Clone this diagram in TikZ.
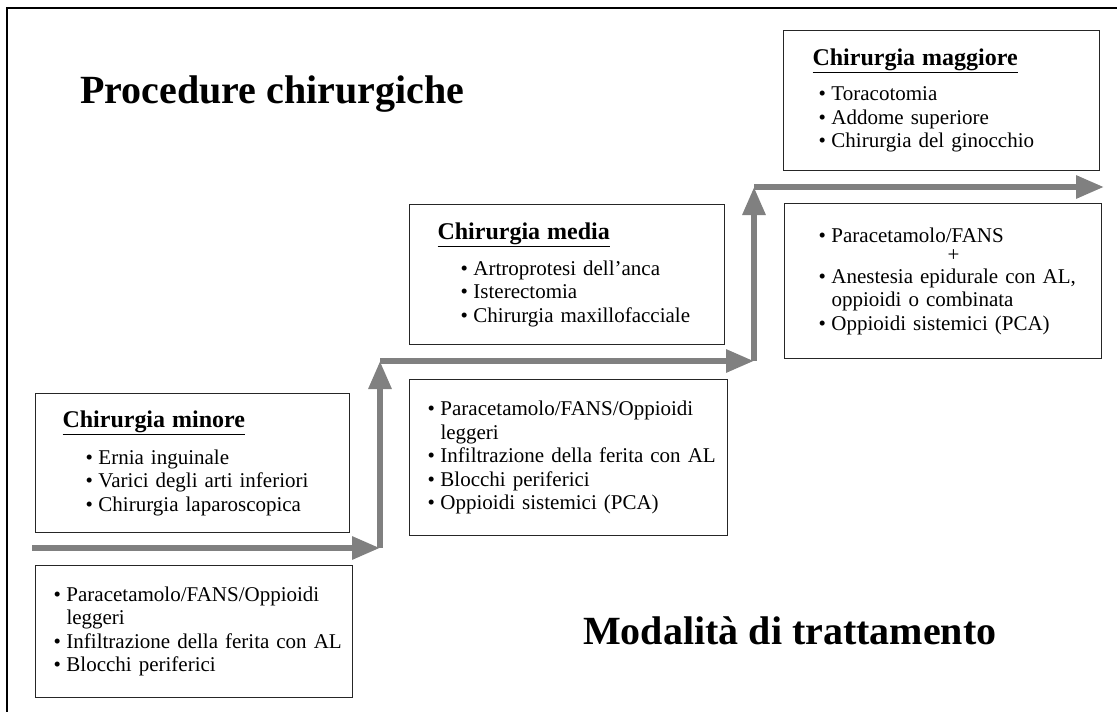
\documentclass[tikz,border=0pt]{standalone}
\usepackage{fontspec}
\setmainfont{Liberation Serif}
\usepackage{tikz}
\usetikzlibrary{positioning}
\usetikzlibrary{arrows.meta}

\newcommand{\pto}{\makebox[13pt][l]{\textbullet}}
\newcommand{\titolo}[1]{\underline{\fontsize{24}{24}\selectfont\bfseries #1}}

\begin{document}
\begin{tikzpicture}[
    x=1pt, y=-1pt,
    scatola/.style={draw=black!85, line width=1pt, anchor=north west, align=left,
      inner xsep=0pt, inner ysep=0pt, font=\fontsize{21}{23.5}\selectfont},
    titolone/.style={anchor=base west, inner sep=0pt, font=\fontsize{40}{40}\selectfont\bfseries},
    gradino/.style={draw=gray, line width=6pt, -{Triangle[length=28pt,width=22pt]}}
    ]
    \useasboundingbox (0,0) rectangle (1117,712);
    \draw[line width=1.5pt] (7,712) -- (7,8) -- (1117,8);

    \node[titolone] (proc) at (80,103) {Procedure chirurgiche};
    \node[titolone] (moda) at (583,644) {Modalità di trattamento};

    % chirurgia minore
    \node[scatola, text width=314pt, minimum height=139pt] (mintop) at (35,393) {%
      \hspace*{27pt}\titolo{Chirurgia minore}\\[13.5pt]
      \hspace*{50pt}\pto Ernia inguinale\\
      \hspace*{50pt}\pto Varici degli arti inferiori\\
      \hspace*{50pt}\pto Chirurgia laparoscopica};
    \node[scatola, text width=317pt, minimum height=132pt] (minbot) at (35,565) {%
      \hspace*{18pt}\pto Paracetamolo/FANS/Oppioidi\\
      \hspace*{31pt}leggeri\\
      \hspace*{18pt}\pto Infiltrazione della ferita con AL\\
      \hspace*{18pt}\pto Blocchi periferici};

    % chirurgia media
    \node[scatola, text width=315pt, minimum height=140pt] (medtop) at (409,204) {%
      \hspace*{28pt}\titolo{Chirurgia media}\\[12.5pt]
      \hspace*{51pt}\pto Artroprotesi dell’anca\\
      \hspace*{51pt}\pto Isterectomia\\
      \hspace*{51pt}\pto Chirurgia maxillofacciale};
    \node[scatola, text width=318pt, minimum height=156pt] (medbot) at (409,379) {%
      \hspace*{18pt}\pto Paracetamolo/FANS/Oppioidi\\
      \hspace*{31pt}leggeri\\
      \hspace*{18pt}\pto Infiltrazione della ferita con AL\\
      \hspace*{18pt}\pto Blocchi periferici\\
      \hspace*{18pt}\pto Oppioidi sistemici (PCA)};

    % chirurgia maggiore
    \node[scatola, text width=316pt, minimum height=140pt] (magtop) at (783,30) {%
      \hspace*{29pt}\titolo{Chirurgia maggiore}\\[11.5pt]
      \hspace*{35pt}\pto Toracotomia\\
      \hspace*{35pt}\pto Addome superiore\\
      \hspace*{35pt}\pto Chirurgia del ginocchio};
    \node[scatola, text width=317pt, minimum height=155pt] (magbot) at (784,203) {%
      \hspace*{34pt}\pto Paracetamolo/FANS\\[-4pt]
      \hspace*{163pt}+\\[-2pt]
      \hspace*{34pt}\pto Anestesia epidurale con AL,\\
      \hspace*{47pt}oppioidi o combinata\\
      \hspace*{34pt}\pto Oppioidi sistemici (PCA)};

    % scalini
    \coordinate (s0) at (32,548);
    \coordinate (g1) at (380,548);
    \coordinate (g2) at (380,361);
    \coordinate (g3) at (754,361);
    \coordinate (g4) at (754,187);
    \coordinate (g5) at (1104,187);
    \path (s0) edge[gradino] (g1)
    (g1) edge[gradino] (g2)
    (g2) edge[gradino] (g3)
    (g3) edge[gradino] (g4)
    (g4) edge[gradino] (g5)
    ;

  \end{tikzpicture}
\end{document}
